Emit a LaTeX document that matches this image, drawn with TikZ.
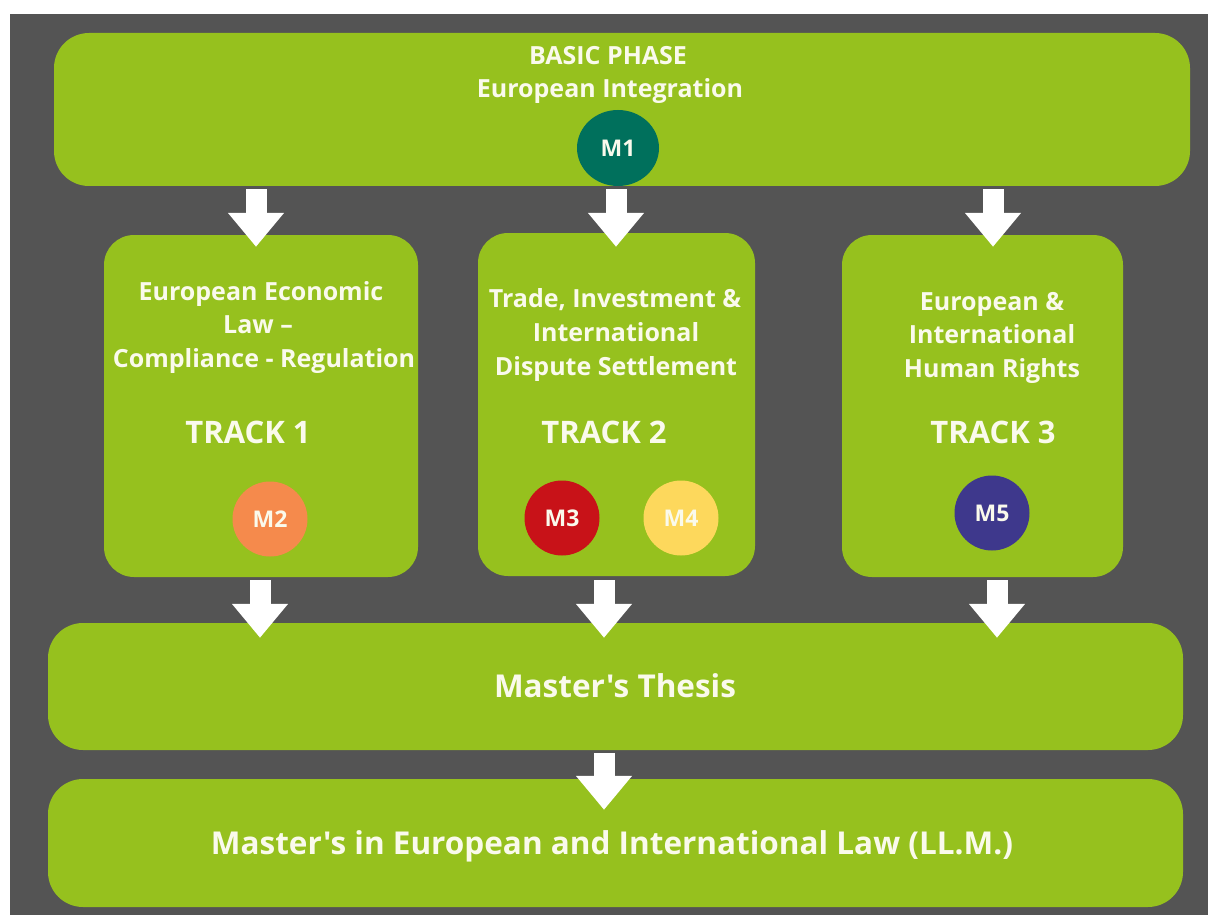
\documentclass[tikz,border=0pt]{standalone}
\usepackage{fontspec}
\newfontfamily\osans{Open Sans}
\usetikzlibrary{arrows.meta,shapes.geometric,calc}
\definecolor{bggray}{RGB}{84,84,84}
\definecolor{lgreen}{RGB}{150,193,30}
\definecolor{txt}{RGB}{250,250,236}
\definecolor{cmone}{RGB}{0,112,92}
\definecolor{cmtwo}{RGB}{245,138,76}
\definecolor{cmthree}{RGB}{200,18,24}
\definecolor{cmfour}{RGB}{253,216,92}
\definecolor{cmfive}{RGB}{62,56,140}
\tikzset{
  box/.style={fill=lgreen, draw=none, rectangle, inner sep=0pt},
  lbl/.style={text=txt, anchor=base, inner sep=0pt, font=\osans\fontsize{25}{29}\selectfont\bfseries},
  trk/.style={text=txt, anchor=base, inner sep=0pt, font=\osans\fontsize{31}{35}\selectfont\bfseries},
  big/.style={text=txt, anchor=base, inner sep=0pt, font=\osans\fontsize{31.5}{35}\selectfont\bfseries},
  mod/.style={circle, draw=none, minimum size=75pt, inner sep=0pt, text=txt, font=\osans\fontsize{23}{27}\selectfont\bfseries},
  fatarrow/.style={draw=white, line width=21pt, -{Triangle[width=54pt,length=34pt]}}
}
\begin{document}
\begin{tikzpicture}[x=1pt,y=-1pt]
\useasboundingbox (0,0) rectangle (1208,915);
\fill[white] (0,0) rectangle (1208,915);
\fill[bggray] (10,14) rectangle (1208,915);

% boxes
\node[box, rounded corners=35pt, minimum width=1136pt, minimum height=153pt] (top) at (622,109.5) {};
\node[box, rounded corners=30pt, minimum width=314pt, minimum height=342pt] (t1) at (261,406) {};
\node[box, rounded corners=30pt, minimum width=277pt, minimum height=343pt] (t2) at (616.5,404.5) {};
\node[box, rounded corners=30pt, minimum width=281pt, minimum height=342pt] (t3) at (982.5,406) {};
\node[box, rounded corners=35pt, minimum width=1135pt, minimum height=127pt] (thesis) at (615.5,686.5) {};
\node[box, rounded corners=35pt, minimum width=1135pt, minimum height=128pt] (final) at (615.5,843) {};

% texts
\node[lbl] (bp) at (608,65) {BASIC PHASE};
\node[lbl] (ei) at (610,98) {European Integration};
\node[mod, ellipse, minimum width=82pt, minimum height=76pt, fill=cmone] (m1) at (618,148) {M1};

\node[lbl] (t1a) at (261,300) {European Economic};
\node[lbl] (t1b) at (258,333) {Law –};
\node[lbl] (t1c) at (264,367) {Compliance - Regulation};
\node[trk] (t1h) at (248,443) {TRACK 1};
\node[mod, fill=cmtwo] (m2) at (270,519) {M2};

\node[lbl] (t2a) at (615,307) {Trade, Investment \&};
\node[lbl] (t2b) at (616,341) {International};
\node[lbl] (t2c) at (616,375) {Dispute Settlement};
\node[trk] (t2h) at (604,443) {TRACK 2};
\node[mod, fill=cmthree] (m3) at (562,518) {M3};
\node[mod, fill=cmfour] (m4) at (681,518) {M4};

\node[lbl] (t3a) at (992,310) {European \&};
\node[lbl] (t3b) at (992,343) {International};
\node[lbl] (t3c) at (992,377) {Human Rights};
\node[trk] (t3h) at (993,443) {TRACK 3};
\node[mod, fill=cmfive] (m5) at (992,513) {M5};

\node[big] (mt) at (615,697) {Master's Thesis};
\node[big] (ml) at (612,854) {Master's in European and International Law (LL.M.)};

% arrow columns
\coordinate (a1) at (256,0);
\coordinate (a2) at (616,0);
\coordinate (a3) at (993,0);
\coordinate (b1) at (260,0);
\coordinate (b2) at (604,0);
\coordinate (b3) at (997,0);

\draw[fatarrow] ($(top.south -| a1)+(0,3)$) -- ($(t1.north -| a1)+(0,12)$);
\draw[fatarrow] ($(top.south -| a2)+(0,3)$) -- ($(t2.north -| a2)+(0,14)$);
\draw[fatarrow] ($(top.south -| a3)+(0,3)$) -- ($(t3.north -| a3)+(0,12)$);
\draw[fatarrow] ($(t1.south -| b1)+(0,3)$) -- ($(thesis.north -| b1)+(0,15)$);
\draw[fatarrow] ($(t2.south -| b2)+(0,4)$) -- ($(thesis.north -| b2)+(0,15)$);
\draw[fatarrow] ($(t3.south -| b3)+(0,3)$) -- ($(thesis.north -| b3)+(0,15)$);
\draw[fatarrow] ($(thesis.south -| b2)+(0,3)$) -- ($(final.north -| b2)+(0,31)$);
\end{tikzpicture}
\end{document}
